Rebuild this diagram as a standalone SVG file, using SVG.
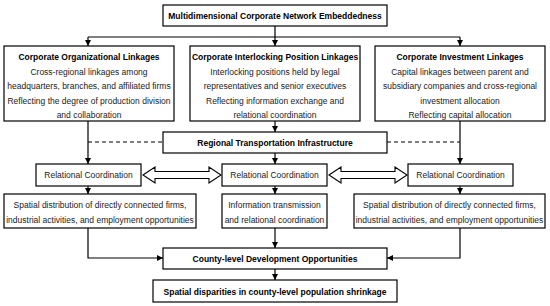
<svg xmlns="http://www.w3.org/2000/svg" width="550" height="306" viewBox="0 0 550 306">
<defs>
<style>
.box{fill:#fff;stroke:#000;stroke-width:1.2}
text{font-family:"Liberation Sans",Arial,sans-serif;font-size:8.5px;fill:#1a1a1a;text-anchor:middle}
.b{font-weight:bold;fill:#000}
.ln{fill:none;stroke:#000;stroke-width:1.2}
.ar{marker-end:url(#ah)}
.dash{stroke-dasharray:4,3}
.dbl{fill:#fff;stroke:#000;stroke-width:1.1}
</style>
<marker id="ah" viewBox="0 0 10 10" refX="10" refY="5" markerWidth="6" markerHeight="6" markerUnits="userSpaceOnUse" orient="auto">
<path d="M0,0 L10,5 L0,10 z" fill="#000"/>
</marker>
</defs>
<rect width="550" height="306" fill="#fff"/>
<g id="connectors">
<path class="ln" d="M275,26 V37 M88,37 H460"/>
<path class="ln ar" d="M88,37 V46"/>
<path class="ln ar" d="M275,37 V46"/>
<path class="ln ar" d="M460,37 V46"/>
<path class="ln ar" d="M88,121 V164"/>
<path class="ln ar" d="M275,121 V132"/>
<path class="ln ar" d="M460,121 V164"/>
<path class="ln dash" d="M88,142 H163 M387,142 H460"/>
<path class="ln ar" d="M275,153 V164"/>
<path class="ln ar" d="M88,186 V194"/>
<path class="ln ar" d="M275,186 V194"/>
<path class="ln ar" d="M460,186 V194"/>
<path class="ln ar" d="M88,228 V258 H163"/>
<path class="ln ar" d="M460,228 V258 H387"/>
<path class="ln ar" d="M275,228 V248"/>
<path class="ln ar" d="M275,269 V280"/>
<polygon class="dbl" points="143,175 155,167 155,171.5 209,171.5 209,167 221,175 209,183 209,178.5 155,178.5 155,183"/>
<polygon class="dbl" points="329,175 341,167 341,171.5 395,171.5 395,167 407,175 395,183 395,178.5 341,178.5 341,183"/>
</g>
<g id="top">
<rect class="box" x="163" y="5" width="224" height="21"/>
<text class="b" x="275" y="18.7">Multidimensional Corporate Network Embeddedness</text>
</g>
<g id="org">
<rect class="box" x="4" y="46" width="170" height="75"/>
<text class="b" x="89" y="60">Corporate Organizational Linkages</text>
<text x="89" y="74.5">Cross-regional linkages among</text>
<text x="89" y="89">headquarters, branches, and affiliated firms</text>
<text x="89" y="103.5">Reflecting the degree of production division</text>
<text x="89" y="118">and collaboration</text>
</g>
<g id="interlock">
<rect class="box" x="190" y="46" width="170" height="75"/>
<text class="b" x="275" y="60">Corporate Interlocking Position Linkages</text>
<text x="275" y="74.5">Interlocking positions held by legal</text>
<text x="275" y="89">representatives and senior executives</text>
<text x="275" y="103.5">Reflecting information exchange and</text>
<text x="275" y="118">relational coordination</text>
</g>
<g id="invest">
<rect class="box" x="375" y="46" width="170" height="75"/>
<text class="b" x="460" y="60">Corporate Investment Linkages</text>
<text x="460" y="74.5">Capital linkages between parent and</text>
<text x="460" y="89">subsidiary companies and cross-regional</text>
<text x="460" y="103.5">investment allocation</text>
<text x="460" y="118">Reflecting capital allocation</text>
</g>
<g id="transport">
<rect class="box" x="163" y="132" width="224" height="21"/>
<text class="b" x="275" y="146">Regional Transportation Infrastructure</text>
</g>
<g id="rc1">
<rect class="box" x="36" y="164" width="105" height="22"/>
<text x="88.5" y="178">Relational Coordination</text>
</g>
<g id="rc2">
<rect class="box" x="222" y="164" width="105" height="22"/>
<text x="274.5" y="178">Relational Coordination</text>
</g>
<g id="rc3">
<rect class="box" x="408" y="164" width="105" height="22"/>
<text x="460.5" y="178">Relational Coordination</text>
</g>
<g id="spatialL">
<rect class="box" x="4" y="194" width="192" height="34"/>
<text x="100" y="208">Spatial distribution of directly connected firms,</text>
<text x="100" y="223">industrial activities, and employment opportunities</text>
</g>
<g id="info">
<rect class="box" x="222" y="194" width="105" height="34"/>
<text x="274.5" y="208">Information transmission</text>
<text x="274.5" y="223">and relational coordination</text>
</g>
<g id="spatialR">
<rect class="box" x="354" y="194" width="191" height="34"/>
<text x="449.5" y="208">Spatial distribution of directly connected firms,</text>
<text x="449.5" y="223">industrial activities, and employment opportunities</text>
</g>
<g id="county">
<rect class="box" x="163" y="248" width="224" height="21"/>
<text class="b" x="275" y="262">County-level Development Opportunities</text>
</g>
<g id="shrink">
<rect class="box" x="153" y="280" width="244" height="22"/>
<text class="b" x="275" y="294.5">Spatial disparities in county-level population shrinkage</text>
</g>
</svg>
